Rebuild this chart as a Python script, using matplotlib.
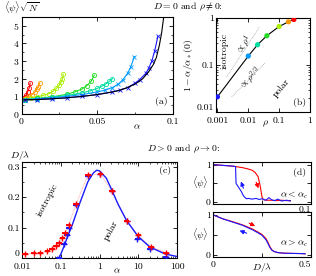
import numpy as np
import matplotlib
matplotlib.use("Agg")
import matplotlib.pyplot as plt
from matplotlib.ticker import MultipleLocator, LogLocator, NullFormatter

plt.rcParams['font.family'] = 'cmr10'
plt.rcParams['mathtext.fontset'] = 'cm'
plt.rcParams['axes.formatter.use_mathtext'] = True
plt.rcParams['font.size'] = 7
plt.rcParams['axes.linewidth'] = 0.8

# ---- panel (a): <psi> sqrt(N) vs alpha, one curve per rho ----
a_colors = ['#ff0000', '#ff9900', '#aaee00', '#22dd22', '#00dda0', '#0099ff', '#1a1aff']
a_markers = ['o', 'o', 'o', 'o', 'o', 'x', 'x']
a_alpha = [
    [0.001, 0.002, 0.003, 0.004, 0.005, 0.0057],
    [0.001, 0.003, 0.005, 0.007, 0.009, 0.010, 0.011, 0.012],
    [0.002, 0.006, 0.010, 0.014, 0.018, 0.021, 0.023, 0.025, 0.026, 0.027, 0.0275],
    [0.002, 0.010, 0.020, 0.030, 0.035, 0.040, 0.043, 0.046, 0.048],
    [0.002, 0.010, 0.020, 0.030, 0.040, 0.045, 0.050, 0.053, 0.056, 0.058, 0.060],
    [0.002, 0.010, 0.020, 0.030, 0.040, 0.050, 0.055, 0.060, 0.064, 0.067, 0.070, 0.072, 0.0745],
    [0.002, 0.010, 0.020, 0.030, 0.040, 0.050, 0.060, 0.065, 0.070, 0.075, 0.078, 0.082, 0.084,
     0.086, 0.088, 0.090],
]
a_psi = [
    [0.88, 0.95, 1.05, 1.25, 1.45, 1.75],
    [0.85, 0.90, 1.00, 1.10, 1.25, 1.40, 1.55, 1.75],
    [0.85, 0.90, 0.97, 1.05, 1.15, 1.30, 1.45, 1.65, 1.80, 2.00, 2.25],
    [0.82, 0.88, 0.97, 1.12, 1.25, 1.42, 1.60, 1.85, 2.20],
    [0.82, 0.87, 0.95, 1.05, 1.20, 1.30, 1.45, 1.58, 1.72, 1.85, 2.00],
    [0.82, 0.85, 0.92, 1.00, 1.10, 1.25, 1.35, 1.50, 1.70, 1.95, 2.30, 2.65, 3.25],
    [0.80, 0.82, 0.86, 0.92, 1.00, 1.10, 1.25, 1.35, 1.50, 1.75, 1.95, 2.30, 2.60,
     3.00, 3.60, 4.40],
]
theory_alpha = [0, 0.01, 0.02, 0.03, 0.04, 0.05, 0.06, 0.065, 0.07, 0.075, 0.08, 0.084,
                0.087, 0.089, 0.091, 0.0925, 0.094]
theory_psi = [0.80, 0.82, 0.86, 0.92, 1.00, 1.10, 1.25, 1.35, 1.50, 1.70, 2.00, 2.40,
              2.80, 3.20, 3.90, 4.60, 5.60]

# ---- panel (b): 1 - alpha*/alpha*(0) vs rho ----
b_rho = [0.001, 0.01, 0.02, 0.04, 0.1, 0.2, 0.3]
b_val = [0.021, 0.155, 0.27, 0.42, 0.66, 0.83, 0.93]
b_colors = ['#1a1aff', '#0099ff', '#00dda0', '#22dd22', '#aaee00', '#ff9900', '#ff0000']

# ---- panel (c): D/lambda vs alpha ----
c_theory_alpha = [0.089, 0.1, 0.12, 0.15, 0.2, 0.3, 0.5, 0.7, 0.85, 1.0, 1.5, 2, 3, 5,
                  10, 20, 50, 100]
c_theory_D = [0.0, 0.012, 0.037, 0.07, 0.11, 0.175, 0.25, 0.28, 0.288, 0.286, 0.262,
              0.228, 0.177, 0.123, 0.07, 0.036, 0.013, 0.005]
c_red_alpha = [0.012, 0.02, 0.03, 0.045, 0.06, 0.075, 0.09, 0.11, 0.13, 0.16, 0.25,
               0.5, 1.05, 2.1, 5.0, 10, 21, 52]
c_red_D = [0.014, 0.016, 0.018, 0.022, 0.03, 0.04, 0.05, 0.065, 0.082, 0.108, 0.178,
           0.272, 0.276, 0.219, 0.12, 0.075, 0.037, 0.018]
c_blue_alpha = [0.09, 0.12, 0.145, 0.16, 0.25, 0.5, 1.05, 2.1, 5.0, 9.5, 20, 51]
c_blue_D = [0.0, 0.045, 0.074, 0.097, 0.175, 0.27, 0.276, 0.219, 0.12, 0.063, 0.03, 0.002]

# ---- panel (d): hysteresis of <psi> vs D/lambda ----
d1_red_D = [0, 0.005, 0.01, 0.015, 0.02, 0.025, 0.03, 0.035, 0.04, 0.043, 0.046, 0.048,
            0.049, 0.05, 0.051, 0.052, 0.055, 0.06, 0.065, 0.07, 0.075, 0.079]
d1_red_psi = [1.0, 0.99, 0.98, 0.97, 0.96, 0.94, 0.92, 0.89, 0.85, 0.79, 0.68, 0.45,
              0.3, 0.14, 0.08, 0.06, 0.05, 0.05, 0.04, 0.05, 0.04, 0.04]
d1_blue_D = [0.079, 0.075, 0.07, 0.066, 0.063, 0.06, 0.057, 0.054, 0.05, 0.047, 0.044,
             0.04, 0.036, 0.034, 0.031, 0.029, 0.027, 0.025, 0.0235, 0.023, 0.02, 0.015,
             0.01, 0.005, 0.0]
d1_blue_psi = [0.03, 0.05, 0.03, 0.08, 0.04, 0.06, 0.12, 0.05, 0.09, 0.07, 0.1, 0.08,
               0.1, 0.09, 0.17, 0.28, 0.36, 0.44, 0.5, 0.95, 0.96, 0.97, 0.98, 0.99, 1.0]
d2_D = [0, 0.05, 0.1, 0.15, 0.2, 0.23, 0.25, 0.27, 0.28, 0.29, 0.3, 0.31, 0.33, 0.36,
        0.4, 0.45, 0.47]
d2_red_psi = [1.0, 0.9, 0.83, 0.75, 0.65, 0.57, 0.51, 0.41, 0.32, 0.21, 0.13, 0.09,
              0.06, 0.045, 0.04, 0.035, 0.03]
d2_blue_psi = [1.0, 0.9, 0.82, 0.74, 0.63, 0.55, 0.49, 0.38, 0.29, 0.19, 0.12, 0.09,
               0.06, 0.045, 0.04, 0.035, 0.03]

W, H = 316, 276
fig = plt.figure(figsize=(W / 100, H / 100), dpi=100)


def box(l, t, r, b):
    return [l / W, 1 - b / H, (r - l) / W, (b - t) / H]


def style(ax, xpad=1.5):
    ax.tick_params(which='both', direction='in', top=True, right=True, pad=1.5)
    ax.tick_params(axis='x', pad=xpad)
    ax.tick_params(which='major', length=3, width=0.6)
    ax.tick_params(which='minor', length=1.6, width=0.5)


# (a)
ax = fig.add_axes(box(21.5, 17, 173, 114))
for x, y, c, m in zip(a_alpha, a_psi, a_colors, a_markers):
    ax.plot(x, y, color=c, lw=0.8, marker=m, ms=3, mfc='none', mew=0.6)
ax.plot(theory_alpha, theory_psi, color='black', lw=0.8)
ax.set_xlim(0, 0.1)
ax.set_ylim(0, 5.5)
ax.set_xticks([0, 0.05, 0.1])
ax.set_xticklabels(['0', '0.05', '0.1'])
ax.set_yticks([0, 1, 2, 3, 4, 5])
ax.xaxis.set_minor_locator(MultipleLocator(0.025))
ax.yaxis.set_minor_locator(MultipleLocator(0.5))
style(ax, xpad=2.5)
ax.text(0.965, 0.08, '(a)', transform=ax.transAxes, ha='right', va='bottom')
fig.text(137 / W, 1 - 127 / H, r'$\alpha$', ha='center', va='center')
fig.text(4 / W, 1 - 8 / H, r'$\langle\psi\rangle\sqrt{N}$', ha='left', va='center')

# (b)
ax = fig.add_axes(box(216, 18, 310, 112))
ax.plot(b_rho, b_val, color='black', lw=0.8, zorder=2)
ax.scatter(b_rho, b_val, c=b_colors, s=14, zorder=3, edgecolors='none')
r1 = np.array([0.002, 0.023])
ax.plot(r1, 0.056 * r1 / 0.002, color='#aaaaaa', lw=0.6, ls=(0, (1, 1)))
r2 = np.array([0.0029, 0.036])
ax.plot(r2, 0.021 * (r2 / 0.0029) ** (2 / 3), color='#aaaaaa', lw=0.6, ls=(0, (1, 1)))
ax.set_xscale('log')
ax.set_yscale('log')
ax.set_xlim(0.0009, 1)
ax.set_ylim(0.01, 1)
ax.set_xticks([0.001, 0.01, 0.1, 1])
ax.set_xticklabels(['0.001', '0.01', '0.1', '1'])
ax.set_yticks([0.01, 0.1, 1])
ax.set_yticklabels(['0.01', '0.1', '1'])
ax.xaxis.set_minor_locator(LogLocator(subs=np.arange(2, 10)))
ax.yaxis.set_minor_locator(LogLocator(subs=np.arange(2, 10)))
ax.xaxis.set_minor_formatter(NullFormatter())
ax.yaxis.set_minor_formatter(NullFormatter())
style(ax, xpad=3)
ax.get_yticklabels()[0].set_verticalalignment('bottom')
ax.text(0.0075, 0.27, r'$\propto\rho^1$', rotation=56, ha='center', va='center', fontsize=6.5)
ax.text(0.012, 0.055, r'$\propto\rho^{2/3}$', rotation=45, ha='center', va='center', fontsize=6.5)
ax.text(0.0017, 0.2, 'isotropic', rotation=90, ha='center', va='center')
ax.text(0.12, 0.033, 'polar', rotation=50, ha='center', va='center')
ax.text(0.96, 0.05, '(b)', transform=ax.transAxes, ha='right', va='bottom')
fig.text(265 / W, 1 - 124 / H, r'$\rho$', ha='center', va='center')
ax.set_ylabel(r'$1-\alpha/\alpha_*(0)$', labelpad=1)
fig.text(153 / W, 1 - 7 / H, r'$D=0$ and $\rho\neq0$:', ha='left', va='center')

# (c)
ax = fig.add_axes(box(22, 162, 177, 258))
ax.plot(c_red_alpha, c_red_D, color='#ff8080', lw=0.5, ls=(0, (1, 1)), zorder=1)
ax.plot(c_theory_alpha, c_theory_D, color='#1a1aff', lw=1.0, zorder=2)
ax.errorbar(c_blue_alpha, c_blue_D, xerr=[np.array(c_blue_alpha) * 0.15,
            np.array(c_blue_alpha) * 0.18], fmt='+', color='#1a1aff', ms=4,
            elinewidth=1.4, capsize=0, zorder=3)
ax.errorbar(c_red_alpha, c_red_D, xerr=[np.array(c_red_alpha) * 0.15,
            np.array(c_red_alpha) * 0.18], fmt='+', color='#ff0000', ms=4,
            elinewidth=1.4, capsize=0, zorder=4)
ax.set_xscale('log')
ax.set_xlim(0.01, 100)
ax.set_ylim(0, 0.315)
ax.set_xticks([0.01, 0.1, 1, 10, 100])
ax.set_xticklabels(['0.01', '0.1', '1', '10', '100'])
ax.set_yticks([0, 0.1, 0.2, 0.3])
ax.set_yticklabels(['0', '0.1', '0.2', '0.3'])
ax.xaxis.set_minor_locator(LogLocator(subs=np.arange(2, 10)))
ax.xaxis.set_minor_formatter(NullFormatter())
ax.yaxis.set_minor_locator(MultipleLocator(0.05))
style(ax, xpad=3)
ax.get_yticklabels()[0].set_verticalalignment('bottom')
ax.text(0.045, 0.19, 'isotropic', rotation=62, ha='center', va='center')
ax.text(2.0, 0.09, 'polar', rotation=62, ha='center', va='center')
ax.text(0.96, 0.86, '(c)', transform=ax.transAxes, ha='right', va='bottom')
fig.text(117 / W, 1 - 271 / H, r'$\alpha$', ha='center', va='center')
fig.text(10 / W, 1 - 155 / H, r'$D/\lambda$', ha='left', va='center')
fig.text(147 / W, 1 - 149 / H, r'$D>0$ and $\rho\to0$:', ha='left', va='center')

# (d) top
ax = fig.add_axes(box(213, 162, 311, 204))
ax.plot(d1_red_D, d1_red_psi, color='#ff0000', lw=0.8)
ax.plot(d1_blue_D, d1_blue_psi, color='#1a1aff', lw=0.8)
ax.annotate('', xy=(0.0475, 0.3), xytext=(0.043, 0.6),
            arrowprops=dict(arrowstyle='-|>', color='#ff0000', lw=0.8, mutation_scale=6))
ax.annotate('', xy=(0.0275, 0.62), xytext=(0.032, 0.3),
            arrowprops=dict(arrowstyle='-|>', color='#1a1aff', lw=0.8, mutation_scale=6))
ax.set_xlim(0, 0.1)
ax.set_ylim(-0.05, 1.07)
ax.set_xticks([0, 0.05, 0.1])
ax.set_xticklabels(['', '', '0.1'])
ax.get_xticklabels()[2].set_horizontalalignment('right')
ax.set_yticks([0, 0.5, 1])
ax.set_yticklabels(['0', '', '1'])
style(ax)
ax.text(0.97, 0.22, r'$\alpha<\alpha_c$', transform=ax.transAxes, ha='right', va='center')
ax.text(0.95, 0.75, '(d)', transform=ax.transAxes, ha='right', va='center')
fig.text(200 / W, 1 - 183 / H, r'$\langle\psi\rangle$', ha='center', va='center')

# (d) bottom
ax = fig.add_axes(box(213, 212, 311, 257))
ax.plot(d2_D, d2_red_psi, color='#ff0000', lw=0.8)
ax.plot(d2_D, d2_blue_psi, color='#1a1aff', lw=0.8)
ax.annotate('', xy=(0.228, 0.69), xytext=(0.172, 0.82),
            arrowprops=dict(arrowstyle='-|>', color='#ff0000', lw=0.8, mutation_scale=6))
ax.annotate('', xy=(0.122, 0.63), xytext=(0.185, 0.52),
            arrowprops=dict(arrowstyle='-|>', color='#1a1aff', lw=0.8, mutation_scale=6))
ax.set_xlim(0, 0.5)
ax.set_ylim(-0.05, 1.07)
ax.set_xticks([0, 0.25, 0.5])
ax.set_xticklabels(['0', '', '0.5'])
ax.get_xticklabels()[2].set_horizontalalignment('right')
ax.set_yticks([0, 0.5, 1])
ax.set_yticklabels(['0', '', '1'])
style(ax, xpad=2.5)
ax.text(0.97, 0.3, r'$\alpha>\alpha_c$', transform=ax.transAxes, ha='right', va='center')
fig.text(200 / W, 1 - 235 / H, r'$\langle\psi\rangle$', ha='center', va='center')
fig.text(262 / W, 1 - 268 / H, r'$D/\lambda$', ha='center', va='center')

fig.savefig('out.png', dpi=100)
